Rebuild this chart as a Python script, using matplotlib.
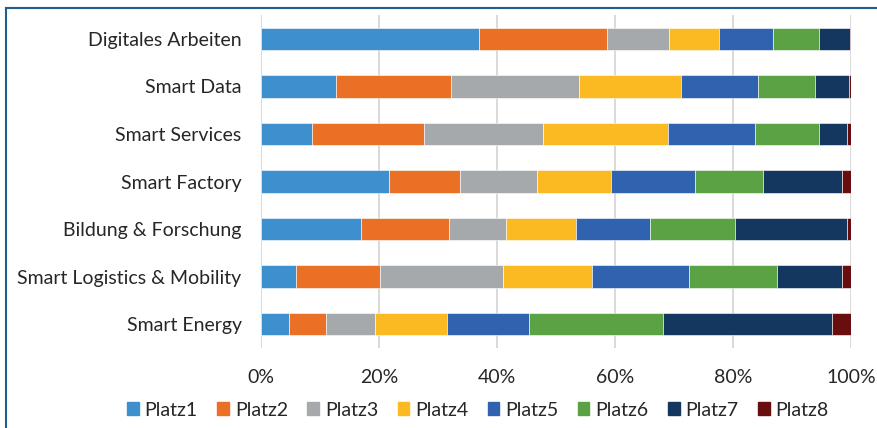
import matplotlib
matplotlib.use("Agg")
import matplotlib.pyplot as plt
from matplotlib.patches import Rectangle
from matplotlib.lines import Line2D
import numpy as np

plt.rcParams['font.family'] = ['Lato', 'DejaVu Sans']

categories = [
    "Digitales Arbeiten",
    "Smart Data",
    "Smart Services",
    "Smart Factory",
    "Bildung & Forschung",
    "Smart Logistics & Mobility",
    "Smart Energy",
]

series_names = ["Platz1", "Platz2", "Platz3", "Platz4", "Platz5", "Platz6", "Platz7", "Platz8"]

# share of each rank per topic (percent), rows follow `categories`
platz1 = [37.0, 12.8, 8.6, 21.7, 17.0, 5.9, 4.8]
platz2 = [21.6, 19.5, 19.1, 12.0, 14.9, 14.3, 6.3]
platz3 = [10.5, 21.7, 20.1, 13.0, 9.6, 20.9, 8.3]
platz4 = [8.5, 17.3, 21.1, 12.5, 11.9, 15.0, 12.2]
platz5 = [9.2, 13.1, 14.8, 14.3, 12.4, 16.5, 13.8]
platz6 = [7.8, 9.6, 10.8, 11.5, 14.4, 14.8, 22.7]
platz7 = [5.2, 5.7, 4.8, 13.3, 19.0, 11.1, 28.7]
platz8 = [0.2, 0.4, 0.7, 1.6, 0.7, 1.5, 3.2]

colors = ["#3E8FCE", "#E97024", "#A5A9AB", "#FBB922",
          "#2F63B0", "#5BA244", "#13375F", "#680E0E"]

xticks = [0, 20, 40, 60, 80, 100]
xtick_labels = ["0%", "20%", "40%", "60%", "80%", "100%"]

data = np.array([platz1, platz2, platz3, platz4, platz5, platz6, platz7, platz8])
data = data / data.sum(axis=0) * 100

FS = 14
TXT = "#262626"

fig = plt.figure(figsize=(8.77, 4.28), dpi=100)
ax = fig.add_axes([261 / 877, 1 - 348 / 428, 590 / 877, 333 / 428])

y = np.arange(len(categories))
left = np.zeros(len(categories))
for name, vals, col in zip(series_names, data, colors):
    ax.barh(y, vals, left=left, height=0.47, color=col, label=name,
            edgecolor="white", linewidth=0.4, zorder=3)
    left += vals

ax.set_xlim(0, 100)
ax.set_ylim(len(categories) - 0.5, -0.5)
ax.set_yticks(y)
ax.set_yticklabels(categories, fontsize=FS, color=TXT)
ax.set_xticks(xticks)
ax.set_xticklabels(xtick_labels, fontsize=FS, color=TXT)
ax.tick_params(axis="both", length=0)
ax.tick_params(axis="y", pad=14)
ax.tick_params(axis="x", pad=15)
ax.xaxis.grid(True, color="#D9D9D9", linewidth=1.4, zorder=0)
ax.set_axisbelow(True)
for s in ax.spines.values():
    s.set_visible(False)

handles = [Rectangle((0, 0), 1, 1, color=c) for c in colors]
fig.legend(handles, series_names, loc="center", bbox_to_anchor=(0.545, 1 - 410 / 428),
           ncol=8, frameon=False, fontsize=FS, handlelength=0.6, handleheight=0.6,
           handletextpad=0.3, columnspacing=1.0, prop={"size": FS})
for t in fig.legends[0].get_texts():
    t.set_color(TXT)

# frame lines along the left and top edges
fig.add_artist(Line2D([6 / 877, 6 / 877], [0, 1 - 8 / 428], color="#1F5F8B",
                      linewidth=1.5, transform=fig.transFigure))
fig.add_artist(Line2D([6 / 877, 1], [1 - 8 / 428, 1 - 8 / 428], color="#1F5F8B",
                      linewidth=1.5, transform=fig.transFigure))

fig.savefig("out.png", dpi=100)
